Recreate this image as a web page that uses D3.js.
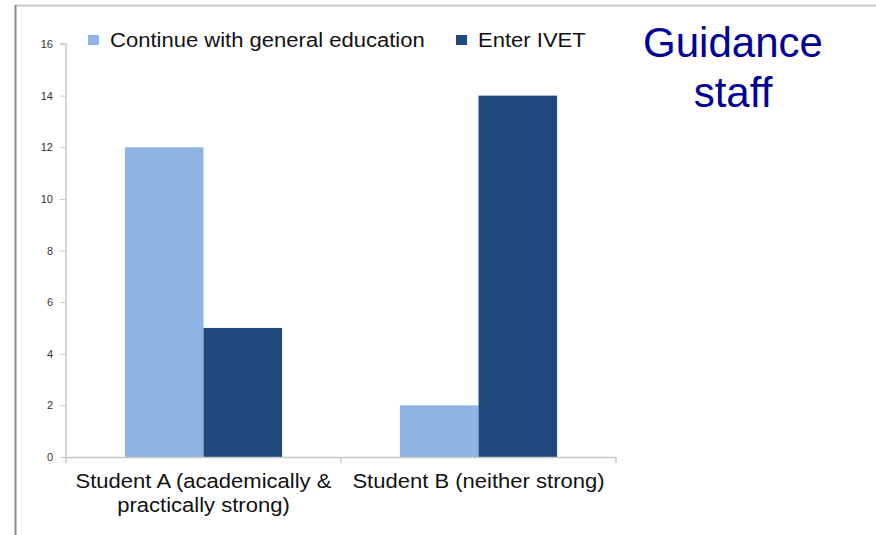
<!DOCTYPE html>
<html><head><meta charset="utf-8">
<script src="https://cdn.jsdelivr.net/npm/d3@7"></script>
<style>body{margin:0;background:#fff}svg{display:block}</style>
</head><body>
<svg id="c" width="876" height="535"></svg>
<script>
const categories = [["Student A (academically &", "practically strong)"], ["Student B (neither strong)"]];
const seriesNames = ["Continue with general education", "Enter IVET"];
const general = [12, 2];
const ivet = [5, 14];
const yTicks = [0, 2, 4, 6, 8, 10, 12, 14, 16];
const colors = ["#8EB4E3", "#1F497D"];
const title = ["Guidance", "staff"];

(function(){
const svg = d3.select("#c");
const font = "'Liberation Sans', Arial, sans-serif";
const SX = 1.13;

// frame lines
svg.append("line").attr("x1",15).attr("x2",876).attr("y1",5.5).attr("y2",5.5).attr("stroke","#c8c8c8").attr("stroke-width",2);
svg.append("line").attr("x1",15.5).attr("x2",15.5).attr("y1",5).attr("y2",535).attr("stroke","#8a8a8a").attr("stroke-width",2);

const pL = 66, pR = 616, pT = 44, pB = 457;
const x = d3.scaleBand().domain(d3.range(categories.length)).range([pL, pR]);
const inner = d3.scaleBand().domain([0,1]).range([0, x.bandwidth()]).paddingInner(0).paddingOuter(0.75);
const y = d3.scaleLinear().domain([0, 16]).range([pB, pT]);

// y axis
const ya = svg.append("g").attr("transform", `translate(${pL},0)`)
  .call(d3.axisLeft(y).tickValues(yTicks).tickSize(6).tickPadding(7));
ya.select(".domain").attr("stroke","#c8c8c8").attr("stroke-width",1.5).attr("d",`M-6,${pT}H0V${pB}`);
ya.selectAll(".tick line").attr("stroke","#c8c8c8");
ya.selectAll(".tick text").attr("fill","#333").style("font-family",font).style("font-size","11px");

// bars
const data = categories.map((c,i)=>[general[i], ivet[i]]);
data.forEach((vals, i) => {
  vals.forEach((v, s) => {
    svg.append("rect")
      .attr("x", x(i) + inner(s))
      .attr("width", inner.bandwidth())
      .attr("y", y(v))
      .attr("height", y(0) - y(v))
      .attr("fill", colors[s]);
  });
});

// x axis
const xa = svg.append("g").attr("transform", `translate(0,${pB})`);
xa.append("line").attr("x1",pL).attr("x2",pR).attr("y1",0.5).attr("y2",0.5).attr("stroke","#c8c8c8").attr("stroke-width",1.5);
[pL, ...categories.map((c,i)=>x(i)+x.bandwidth())].forEach(t=>{
  xa.append("line").attr("x1",t).attr("x2",t).attr("y1",0).attr("y2",6).attr("stroke","#c8c8c8").attr("stroke-width",1.5);
});
categories.forEach((lines,i)=>{
  const g = xa.append("g").attr("transform", `translate(${x(i)+x.bandwidth()/2},0) scale(${SX},1)`);
  const t = g.append("text").attr("text-anchor","middle").attr("fill","#111")
    .style("font-family",font).style("font-size","19.5px");
  lines.forEach((l,k)=>{
    t.append("tspan").attr("x", 0).attr("y", 31 + k*24).text(l);
  });
});

// legend
const legX = [88, 456];
seriesNames.forEach((n,s)=>{
  svg.append("rect").attr("x",legX[s]).attr("y",35).attr("width",11).attr("height",10).attr("fill",colors[s]);
  svg.append("g").attr("transform", `translate(${legX[s]+22},47) scale(${SX},1)`)
    .append("text").attr("x",0).attr("y",0).attr("fill","#111")
    .style("font-family",font).style("font-size","19.5px").text(n);
});

// title
title.forEach((t,k)=>{
  svg.append("text").attr("x",733).attr("y",57 + k*50).attr("text-anchor","middle")
    .attr("fill","#000099").style("font-family",font).style("font-size","42px").text(t);
});
})();
</script>
</body></html>
